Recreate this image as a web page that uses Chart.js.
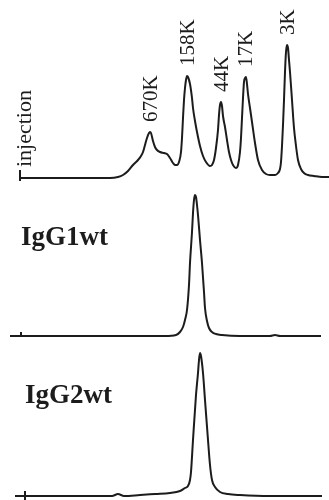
<!DOCTYPE html>
<html>
<head>
<meta charset="utf-8">
<script src="https://cdn.jsdelivr.net/npm/chart.js@4"></script>
<style>
  html, body { margin: 0; padding: 0; background: #fff; }
  #chart { display: block; }
</style>
</head>
<body>
<canvas id="chart" width="329" height="500"></canvas>
<script>
// elution time (min) and absorbance (a.u.)

// standards run
const timeStd = [
  0, 2, 4, 6, 8, 9, 9.8, 10.3, 10.8, 11.3,
  11.8, 12.1, 12.3, 12.5, 12.7, 12.9, 13, 13.1, 13.3, 13.5,
  13.7, 14, 14.4, 14.7, 15, 15.3, 15.5, 15.7, 15.9, 16.1,
  16.2, 16.3, 16.4, 16.5, 16.6, 16.7, 16.8, 17, 17.2, 17.3,
  17.5, 17.7, 18, 18.3, 18.6, 19, 19.2, 19.4, 19.6, 19.8,
  19.9, 20, 20.1, 20.2, 20.3, 20.5, 20.7, 20.9, 21.1, 21.3,
  21.6, 21.8, 22, 22.1, 22.2, 22.3, 22.4, 22.5, 22.6, 22.7,
  22.8, 23, 23.2, 23.5, 23.8, 24.2, 24.6, 25, 25.5, 25.8,
  26, 26.1, 26.2, 26.3, 26.4, 26.5, 26.6, 26.7, 26.8, 26.9,
  27, 27.2, 27.4, 27.6, 27.8, 28.1, 28.4, 28.8, 29.4, 30.2,
  30.9
]
const absStd = [
  0, 0, 0, 0, 0, 0, 1, 3, 7, 13,
  18, 22, 26, 33, 40, 45, 46, 45, 37, 31,
  28, 26, 25, 24, 20, 15, 13, 13, 16, 26,
  40, 60, 78, 90, 98, 102, 101, 94, 80, 70,
  57, 46, 32, 22, 16, 12, 13, 18, 30, 48,
  63, 73, 76, 72, 62, 51, 38, 26, 18, 13,
  10, 13, 26, 40, 60, 80, 96, 100, 101, 94,
  84, 70, 56, 35, 18, 8, 4, 3, 3, 5,
  9, 16, 32, 53, 78, 106, 126, 133, 130, 118,
  106, 78, 50, 32, 18, 9, 5, 3, 2, 1,
  1
]

// IgG1wt
const timeG1 = [
  -1, 0.1, 4, 8, 12, 14.5, 15.6, 16, 16.3, 16.5,
  16.7, 16.9, 17, 17.2, 17.3, 17.4, 17.5, 17.6, 17.7, 17.8,
  18, 18.2, 18.4, 18.5, 18.7, 18.9, 19.2, 19.6, 20.2, 22,
  24, 25, 25.5, 26, 28, 30.1
]
const absG1 = [
  0, 0, 0, 0, 0, 0, 1, 4, 9, 16,
  26, 51, 73, 104, 123, 136, 141, 139, 131, 121,
  96, 73, 44, 28, 15, 8, 4, 2, 1, 0,
  0, 0, 1, 0, 0, 0
]

// IgG2wt
const timeG2 = [
  -0.5, 0.5, 4, 8, 9.2, 9.8, 10.4, 12, 13.5, 15,
  16, 16.5, 16.8, 17, 17.1, 17.3, 17.6, 17.8, 17.9, 18,
  18.1, 18.3, 18.5, 18.8, 19, 19.2, 19.5, 20, 20.8, 22,
  25, 28, 30.2
]
const absG2 = [
  0, 0, 0, 0, 0, 2, 0, 1, 2, 3,
  5, 8, 10, 16, 24, 56, 101, 123, 136, 143,
  140, 123, 96, 56, 31, 16, 9, 4, 2, 1,
  0, 0, 0
]

// injection marks: time and mark extent (a.u.)
const injectTimes = [0, 0.1, 0.5]
const injectTop = [8, 4, 5]
const injectBottom = [-3, 0, -4]

// molecular weight standards
const peakLabels = ['670K', '158K', '44K', '17K', '3K']
const peakTimes = [13.0, 16.7, 20.1, 22.5, 26.7]
const peakHeights = [46, 102, 76, 101, 133]

const panelNames = ['IgG1wt', 'IgG2wt']
const panelNameHeights = [91, 93]

const ink = '#1c1c1c'
const panelAxes = ['yStd', 'yG1', 'yG2']

const zip = (xs, ys) => xs.map((x, i) => ({ x: x, y: ys[i] }))

const trace = (data, axis) => ({
  data: data,
  yAxisID: axis,
  borderColor: ink,
  borderWidth: 2,
  pointRadius: 0,
  fill: false,
  cubicInterpolationMode: 'monotone',
  clip: false
})

const datasets = [
  trace(zip(timeStd, absStd), 'yStd'),
  trace(zip(timeG1, absG1), 'yG1'),
  trace(zip(timeG2, absG2), 'yG2')
]

injectTimes.forEach((t, i) => {
  const mark = trace([{ x: t, y: injectTop[i] }, { x: t, y: injectBottom[i] }], panelAxes[i])
  mark.cubicInterpolationMode = 'default'
  mark.tension = 0
  datasets.push(mark)
})

const labelsPlugin = {
  id: 'traceLabels',
  afterDatasetsDraw (chart) {
    const ctx = chart.ctx
    const x = chart.scales.x
    const yStd = chart.scales.yStd

    ctx.save()
    ctx.fillStyle = ink

    // peak labels, rotated
    ctx.font = "21px 'Liberation Serif'"
    ctx.textAlign = 'left'
    ctx.textBaseline = 'middle'
    peakLabels.forEach((label, i) => {
      ctx.save()
      ctx.translate(x.getPixelForValue(peakTimes[i]), yStd.getPixelForValue(peakHeights[i]) - 10)
      ctx.rotate(-Math.PI / 2)
      ctx.fillText(label, 0, 1)
      ctx.restore()
    })

    ctx.save()
    ctx.font = "22px 'Liberation Serif'"
    ctx.translate(x.getPixelForValue(injectTimes[0]) + 5, yStd.getPixelForValue(injectTop[0] + 3))
    ctx.rotate(-Math.PI / 2)
    ctx.fillText('injection', 0, 0)
    ctx.restore()

    // sample names
    ctx.font = "bold 27px 'Liberation Serif'"
    ctx.textBaseline = 'alphabetic'
    panelNames.forEach((name, i) => {
      const y = chart.scales[panelAxes[i + 1]]
      ctx.fillText(name, x.getPixelForValue(injectTimes[i + 1]), y.getPixelForValue(panelNameHeights[i]))
    })

    ctx.restore()
  }
}

const hidden = (min, max) => ({ type: 'linear', display: false, min: min, max: max })

new Chart(document.getElementById('chart'), {
  type: 'line',
  data: { datasets: datasets },
  options: {
    responsive: false,
    animation: false,
    layout: { padding: 0 },
    plugins: {
      legend: { display: false },
      tooltip: { enabled: false }
    },
    scales: {
      x: hidden(-2, 30.9),
      yStd: hidden(-322, 178),
      yG1: hidden(-164, 336),
      yG2: hidden(-4, 496)
    }
  },
  plugins: [labelsPlugin]
})
</script>
</body>
</html>
